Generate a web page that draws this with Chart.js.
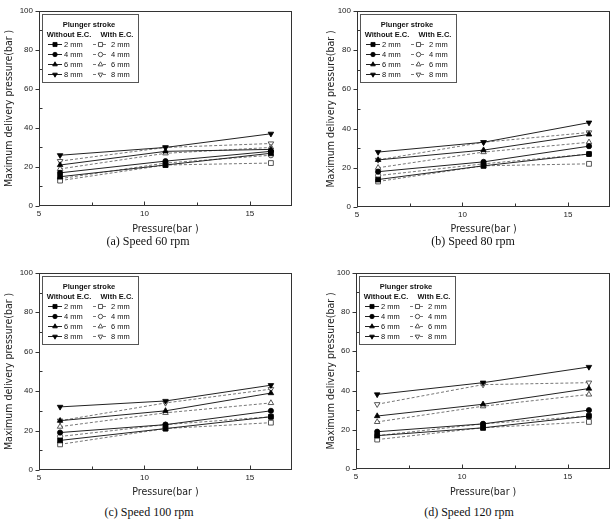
<!DOCTYPE html>
<html><head><meta charset="utf-8">
<script src="https://cdn.jsdelivr.net/npm/chart.js@4"></script>
<style>
html,body{margin:0;padding:0;background:#fff;width:615px;height:527px;overflow:hidden;}
canvas{position:absolute;}
.cap{position:absolute;font-family:'Liberation Serif','Times New Roman',serif;font-size:12px;line-height:16px;color:#111;white-space:nowrap;transform:translateX(-50%);}
</style></head><body>
<canvas id="pa"></canvas><canvas id="pb"></canvas><canvas id="pc"></canvas><canvas id="pd"></canvas>
<div class="cap" id="ca"></div><div class="cap" id="cb"></div><div class="cap" id="cc"></div><div class="cap" id="cd"></div>
<script>
// ---- data ----
const pressure = [6, 11, 16];
const strokeLabels = ['2 mm', '4 mm', '6 mm', '8 mm'];
const groupLabels = ['Without E.C.', 'With E.C.'];
const legendTitle = 'Plunger stroke';
const xTickLabels = [5, 10, 15];
const yTickLabels = [0, 20, 40, 60, 80, 100];
const xTitle = 'Pressure(bar )';
const yTitle = 'Maximum delivery pressure(bar )';
const captions = ['(a) Speed 60 rpm', '(b) Speed 80 rpm', '(c) Speed 100 rpm', '(d) Speed 120 rpm'];

// speed 60 rpm
const without60 = [[15, 21, 27], [17, 23, 28], [21, 28, 29], [26, 30, 37]];
const with60    = [[13, 21, 22], [14, 22, 26], [19, 27, 30], [23, 30, 32]];
// speed 80 rpm
const without80 = [[14, 21, 27], [18, 23, 31], [24, 29, 37], [28, 33, 43]];
const with80    = [[13, 21, 22], [16, 22, 27], [20, 28, 33], [24, 33, 38]];
// speed 100 rpm
const without100 = [[15, 21, 27], [19, 23, 30], [25, 30, 39], [32, 35, 43]];
const with100    = [[13, 21, 24], [17, 23, 27], [22, 29, 34], [25, 34, 41]];
// speed 120 rpm
const without120 = [[17, 21, 27], [19, 23, 30], [27, 33, 41], [38, 44, 52]];
const with120    = [[15, 21, 24], [17, 23, 27], [24, 32, 38], [33, 43, 44]];

// ---- layout ----
const panels = [
  {id:'pa', cap:'ca', box:[0,0,305,240],   area:[39,10,292,206],  xTitleY:229, yTitleX:9,   capXY:[148,233], wo:without60,  w:with60},
  {id:'pb', cap:'cb', box:[305,0,310,240], area:[357,9,611,207],  xTitleY:229, yTitleX:331, capXY:[473,233], wo:without80,  w:with80},
  {id:'pc', cap:'cc', box:[0,262,305,240], area:[39,272,292,470], xTitleY:492, yTitleX:9,   capXY:[149,504], wo:without100, w:with100},
  {id:'pd', cap:'cd', box:[305,262,310,240], area:[356,272,611,469], xTitleY:492, yTitleX:331, capXY:[469,504], wo:without120, w:with120},
];

const markerStyles = [
  {pointStyle:'rect', pointRotation:0, pointRadius:3.4},
  {pointStyle:'circle', pointRotation:0, pointRadius:2.6},
  {pointStyle:'triangle', pointRotation:0, pointRadius:3.2},
  {pointStyle:'triangle', pointRotation:180, pointRadius:3.2},
];

const tickFont = {family:"'Liberation Sans', Arial, sans-serif", size:8};
const titleFont = {family:"'DejaVu Sans Condensed', 'Liberation Sans Narrow', 'DejaVu Sans', sans-serif", size:10.5, lineHeight:1.2};

const framePlugin = {
  id:'frame',
  beforeDatasetsDraw(chart){
    const {ctx, chartArea:a, scales} = chart;
    ctx.save();
    ctx.strokeStyle = '#333'; ctx.lineWidth = 1;
    const l = Math.round(a.left)+0.5, t = Math.round(a.top)+0.5, r = Math.round(a.right)-0.5, b = Math.round(a.bottom)-0.5;
    ctx.strokeRect(l, t, r-l, b-t);
    ctx.beginPath();
    scales.x.ticks.forEach(tk => {
      const px = Math.round(scales.x.getPixelForValue(tk.value))+0.5;
      const len = xTickLabels.includes(tk.value) ? 4 : 3;
      ctx.moveTo(px, b); ctx.lineTo(px, b-len);
    });
    scales.y.ticks.forEach(tk => {
      const py = Math.round(scales.y.getPixelForValue(tk.value))+0.5;
      if (yTickLabels.includes(tk.value)) { ctx.moveTo(l, py); ctx.lineTo(l-4, py); }
      else { ctx.moveTo(l, py); ctx.lineTo(l+3, py); }
    });
    ctx.stroke();
    ctx.restore();
  }
};

const legendPlugin = {
  id:'lg',
  afterDraw(chart){
    const {ctx, chartArea:a} = chart;
    const L = Math.round(a.left), T = Math.round(a.top);
    ctx.save();
    ctx.strokeStyle = '#555'; ctx.lineWidth = 1;
    ctx.strokeRect(L+3+0.5, T+3+0.5, 96, 68);
    ctx.fillStyle = '#111'; ctx.textAlign = 'center'; ctx.textBaseline = 'middle';
    ctx.font = "bold 7.5px 'Liberation Sans', Arial, sans-serif";
    ctx.fillText(legendTitle, L+50, T+14);
    ctx.fillText(groupLabels[0], L+30, T+24);
    ctx.fillText(groupLabels[1], L+78, T+24);
    ctx.font = "7.5px 'Liberation Sans', Arial, sans-serif";
    chart.data.datasets.forEach((ds, k) => {
      const col = k < 4 ? 0 : 1, row = k % 4;
      const y = T + 33.5 + row*10;
      const x0 = L + (col ? 54 : 9), x1 = L + (col ? 69 : 23), xm = (x0+x1)/2;
      ctx.save();
      ctx.strokeStyle = ds.borderColor; ctx.lineWidth = 1; ctx.setLineDash(ds.borderDash || []);
      ctx.beginPath(); ctx.moveTo(x0, y); ctx.lineTo(x1, y); ctx.stroke();
      ctx.restore();
      ctx.save();
      ctx.fillStyle = ds.pointBackgroundColor; ctx.strokeStyle = ds.pointBorderColor; ctx.lineWidth = ds.pointBorderWidth;
      Chart.helpers.drawPoint(ctx, {pointStyle:ds.pointStyle, rotation:ds.pointRotation, radius:ds.pointRadius*0.85, borderWidth:ds.pointBorderWidth}, xm, y);
      ctx.restore();
      ctx.fillStyle = '#111'; ctx.textAlign = 'left';
      ctx.fillText(strokeLabels[row], L + (col ? 72 : 25), y);
    });
    ctx.restore();
  }
};

function makeChart(p){
  const cv = document.getElementById(p.id);
  const [bx, by, bw, bh] = p.box; const [al, at, ar, ab] = p.area;
  cv.width = bw; cv.height = bh;
  cv.style.left = bx+'px'; cv.style.top = by+'px'; cv.style.width = bw+'px'; cv.style.height = bh+'px';
  const lh = titleFont.size * titleFont.lineHeight;
  const datasets = [];
  strokeLabels.forEach((s, i) => {
    datasets.push(Object.assign({
      label: groupLabels[0]+' '+s,
      data: p.wo[i].map((v, j) => ({x: pressure[j], y: v})),
      borderColor:'#222', borderWidth:1, borderDash:[],
      pointBackgroundColor:'#000', pointBorderColor:'#000', pointBorderWidth:0.8,
      fill:false, tension:0
    }, markerStyles[i]));
  });
  strokeLabels.forEach((s, i) => {
    datasets.push(Object.assign({
      label: groupLabels[1]+' '+s,
      data: p.w[i].map((v, j) => ({x: pressure[j], y: v})),
      borderColor:'#777', borderWidth:1, borderDash:[3,2],
      pointBackgroundColor:'#fff', pointBorderColor:'#444', pointBorderWidth:0.9,
      fill:false, tension:0
    }, markerStyles[i]));
  });
  new Chart(cv, {
    type:'line',
    data:{datasets},
    options:{
      responsive:false, animation:false, devicePixelRatio:1,
      events:[],
      layout:{padding:{left:0, top:at-by, right:bx+bw-ar, bottom:0}},
      plugins:{legend:{display:false}, tooltip:{enabled:false}},
      scales:{
        x:{
          type:'linear', min:5, max:17,
          afterFit(s){ s.height = by+bh-ab; },
          grid:{display:false, drawTicks:false},
          border:{display:false},
          ticks:{stepSize:2.5, includeBounds:false, autoSkip:false, maxRotation:0, padding:3, font:tickFont, color:'#222',
                 callback:(v) => xTickLabels.includes(v) ? String(v) : ''},
          title:{display:true, text:xTitle, font:titleFont, color:'#222', padding:{top:0, bottom: by+bh-p.xTitleY-lh/2}}
        },
        y:{
          type:'linear', min:0, max:100,
          afterFit(s){ s.width = al-bx; },
          grid:{display:false, drawTicks:false},
          border:{display:false},
          ticks:{stepSize:10, autoSkip:false, padding:6, font:tickFont, color:'#222',
                 callback:(v) => yTickLabels.includes(v) ? String(v) : ''},
          title:{display:true, text:yTitle, font:titleFont, color:'#222', padding:{top: p.yTitleX-bx-lh/2, bottom:0}}
        }
      }
    },
    plugins:[framePlugin, legendPlugin]
  });
  const cap = document.getElementById(p.cap);
  cap.textContent = captions[panels.indexOf(p)];
  cap.style.left = p.capXY[0]+'px'; cap.style.top = p.capXY[1]+'px';
}
panels.forEach(makeChart);
</script>
</body></html>
